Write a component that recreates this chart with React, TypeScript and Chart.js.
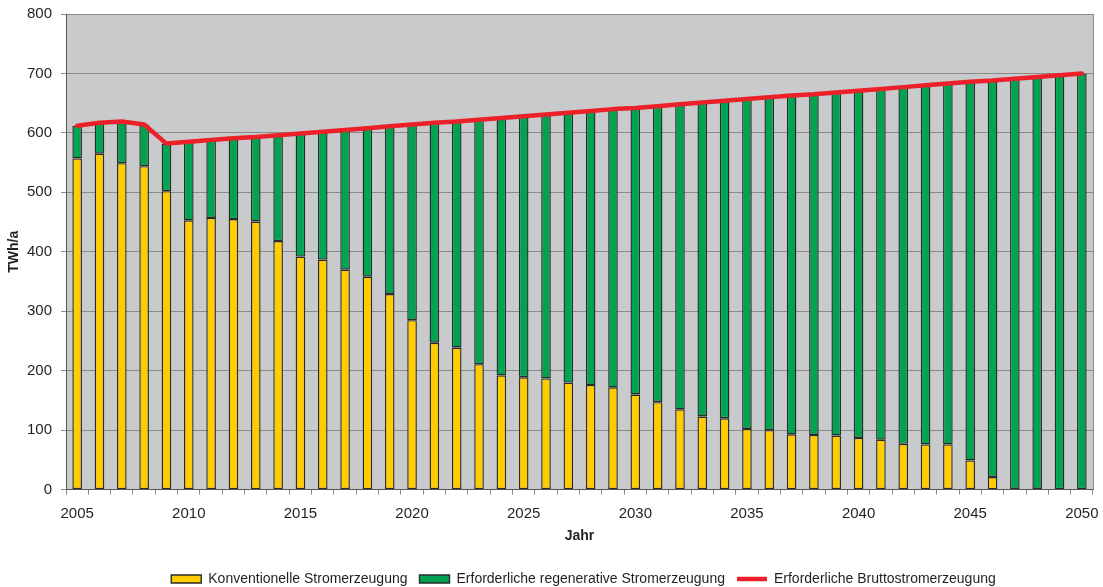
import React, { useEffect, useRef } from "react";
import { Chart, registerables } from "chart.js";

Chart.register(...registerables);

const years: string[] = [
  "2005", "2006", "2007", "2008", "2009", "2010", "2011", "2012", "2013", "2014",
  "2015", "2016", "2017", "2018", "2019", "2020", "2021", "2022", "2023", "2024",
  "2025", "2026", "2027", "2028", "2029", "2030", "2031", "2032", "2033", "2034",
  "2035", "2036", "2037", "2038", "2039", "2040", "2041", "2042", "2043", "2044",
  "2045", "2046", "2047", "2048", "2049", "2050",
];

const konventionell: number[] = [
  557, 565, 549, 544, 502, 453, 457, 455, 451, 418,
  392, 387, 370, 358, 329, 285, 247, 239, 211, 192,
  189, 187, 180, 176, 172, 160, 147, 135, 123, 120,
  102, 100, 93, 92, 91, 87, 84, 77, 76, 76,
  49, 21, 1, 1, 0, 0,
];

const regenerativ: number[] = [
  55, 52, 70, 70, 80, 132, 131, 136, 142, 178,
  207, 215, 235, 250, 282, 329, 370, 380, 411, 433,
  439, 444, 454, 461, 468, 482, 498, 513, 528, 534,
  555, 560, 570, 573, 577, 584, 590, 600, 604, 607,
  637, 667, 690, 693, 697, 700,
];

const brutto: number[] = [
  612, 617, 619, 614, 582, 585, 588, 591, 593, 596,
  599, 602, 605, 608, 611, 614, 617, 619, 622, 625,
  628, 631, 634, 637, 640, 642, 645, 648, 651, 654,
  657, 660, 663, 665, 668, 671, 674, 677, 680, 683,
  686, 688, 691, 694, 697, 700,
];

const seriesNames: string[] = [
  "Konventionelle Stromerzeugung",
  "Erforderliche regenerative Stromerzeugung",
  "Erforderliche Bruttostromerzeugung",
];

const FONT = "'Liberation Sans', Arial, sans-serif";
const TEXT = "#231F20";
const BAR_EDGE = "#2A2A2A";

const plotBg = {
  id: "plotBg",
  afterLayout(chart: any) {
    const lg = chart.legend;
    if (lg) {
      lg.left += 37;
      lg.right += 37;
    }
  },
  beforeDraw(chart: any) {
    const { ctx, chartArea } = chart;
    if (!chartArea) return;
    ctx.save();
    ctx.fillStyle = "#C9CACC";
    ctx.fillRect(chartArea.left, chartArea.top, chartArea.right - chartArea.left, chartArea.bottom - chartArea.top);
    ctx.restore();
  },
  beforeDatasetsDraw(chart: any) {
    const { ctx, chartArea } = chart;
    ctx.save();
    ctx.strokeStyle = "#8A8A8A";
    ctx.lineWidth = 1;
    ctx.beginPath();
    ctx.moveTo(chartArea.right + 0.5, chartArea.top);
    ctx.lineTo(chartArea.right + 0.5, chartArea.bottom);
    ctx.stroke();
    ctx.restore();
  },
};

export default function App() {
  const ref = useRef<HTMLCanvasElement | null>(null);

  useEffect(() => {
    if (!ref.current) return;
    const chart = new Chart(ref.current, {
      type: "bar",
      data: {
        labels: years,
        datasets: [
          {
            type: "bar",
            label: seriesNames[0],
            data: konventionell,
            backgroundColor: "#FFCC00",
            borderColor: BAR_EDGE,
            borderWidth: 1.4,
            borderSkipped: false,
            stack: "s",
            order: 2,
            pointStyle: "rect",
          } as any,
          {
            type: "bar",
            label: seriesNames[1],
            data: regenerativ,
            backgroundColor: "#00A34F",
            borderColor: BAR_EDGE,
            borderWidth: 1.4,
            borderSkipped: false,
            stack: "s",
            order: 2,
            pointStyle: "rect",
          } as any,
          {
            type: "line",
            label: seriesNames[2],
            data: brutto,
            borderColor: "#EC2028",
            backgroundColor: "#EC2028",
            borderWidth: 4.5,
            pointRadius: 0,
            tension: 0,
            stack: "total",
            order: 0,
            pointStyle: "line",
            borderCapStyle: "round",
            borderJoinStyle: "round",
          } as any,
        ],
      },
      options: {
        animation: false,
        responsive: false,
        layout: { padding: { top: 14, right: 10, left: 0, bottom: -9 } },
        datasets: {
          bar: { categoryPercentage: 1, barPercentage: 0.43 },
        },
        plugins: {
          legend: {
            position: "bottom",
            labels: {
              usePointStyle: true,
              pointStyleWidth: 30,
              boxHeight: 8,
              boxWidth: 30,
              padding: 12,
              color: TEXT,
              font: { family: FONT, size: 14 },
              sort: (a: any, b: any) => a.datasetIndex - b.datasetIndex,
            },
          },
          tooltip: { enabled: false },
        },
        scales: {
          x: {
            stacked: true,
            offset: true,
            grid: {
              offset: true,
              drawOnChartArea: false,
              drawTicks: true,
              tickLength: 5,
              color: "#8A8A8A",
            },
            border: { color: "#555555", width: 1 },
            ticks: {
              autoSkip: false,
              maxRotation: 0,
              minRotation: 0,
              padding: 10,
              color: TEXT,
              font: { family: FONT, size: 15 },
              callback: (_v: any, i: number) => (i % 5 === 0 ? years[i] : ""),
            },
            title: {
              display: true,
              text: "Jahr",
              color: TEXT,
              font: { family: FONT, size: 14, weight: "bold" },
              padding: { top: 4, bottom: 15 },
            },
            afterFit: (scale: any) => {
              scale.height = 70.4;
              scale.paddingLeft = 0;
              scale.paddingRight = 0;
            },
          },
          y: {
            stacked: true,
            min: 0,
            max: 800,
            ticks: {
              stepSize: 100,
              padding: 9,
              color: TEXT,
              font: { family: FONT, size: 15 },
            },
            grid: { color: "#8A8A8A", tickLength: 5, lineWidth: 1 },
            border: { color: "#555555", width: 1 },
            title: {
              display: true,
              text: "TWh/a",
              color: TEXT,
              font: { family: FONT, size: 14, weight: "bold" },
              padding: { top: 6, bottom: 0 },
            },
            afterFit: (scale: any) => {
              scale.width = 66;
              scale.paddingTop = 0;
              scale.paddingBottom = 0;
            },
          },
        },
      },
      plugins: [plotBg],
    } as any);
    return () => chart.destroy();
  }, []);

  return (
    <div style={{ position: "absolute", left: 0, top: 0, width: 1103, height: 587 }}>
      <canvas ref={ref} width={1103} height={587} style={{ display: "block" }} />
    </div>
  );
}
